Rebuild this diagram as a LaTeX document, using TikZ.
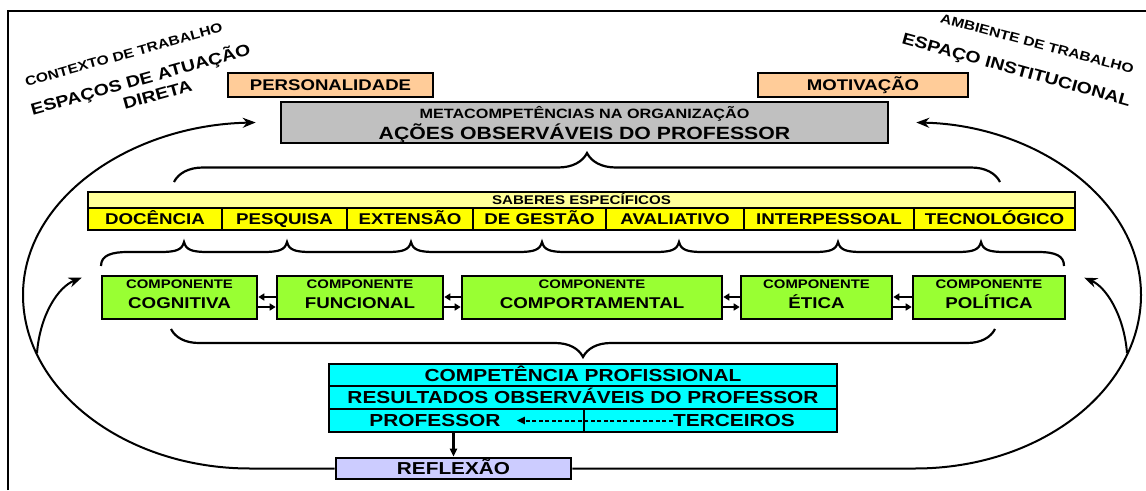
\documentclass[tikz,border=0pt]{standalone}
\usepackage{fontspec}
\setmainfont{Liberation Sans}[FakeStretch=1.2]
\usetikzlibrary{arrows.meta,decorations.pathreplacing}
\definecolor{peach}{HTML}{FFCC99}
\definecolor{metagray}{HTML}{C0C0C0}
\definecolor{paleyellow}{HTML}{FFFF99}
\definecolor{cellyellow}{HTML}{FFFF00}
\definecolor{limegreen}{HTML}{99FF33}
\definecolor{aqua}{HTML}{00FFFF}
\definecolor{lavender}{HTML}{CCCCFF}

\begin{document}
\begin{tikzpicture}[x=1pt,y=-1pt,
plainbox/.style={draw=black, line width=2.6pt, inner sep=0pt},
orangenode/.style={plainbox, fill=peach, minimum height=24pt, text height=11pt, text depth=0pt, font=\bfseries\fontsize{15.5}{15.5}\selectfont},
graynode/.style={plainbox, fill=metagray, minimum height=41pt},
headnode/.style={plainbox, fill=paleyellow, minimum height=16pt, text height=9pt, text depth=0pt, font=\bfseries\fontsize{12.6}{12.6}\selectfont},
cellnode/.style={plainbox, fill=cellyellow, minimum height=22pt, text height=11.2pt, text depth=0pt, font=\bfseries\fontsize{15.6}{15.6}\selectfont},
greennode/.style={plainbox, fill=limegreen, minimum height=43pt},
cyannode/.style={plainbox, fill=aqua, text height=12.5pt, text depth=0pt, font=\bfseries\fontsize{17.4}{17.4}\selectfont},
reflnode/.style={plainbox, fill=lavender, minimum height=21pt, text height=12.4pt, text depth=0pt, font=\bfseries\fontsize{17.3}{17.3}\selectfont},
txt/.style={font=\bfseries\fontsize{#1}{#1}\selectfont, anchor=base, inner sep=0pt},
loopline/.style={line width=2pt, -{Stealth[length=13pt,width=10pt]}},
duoarrow/.style={line width=1.7pt, -{Triangle[length=6pt,width=7pt]}},
bracedeco/.style={line width=2.2pt, decorate, decoration={brace, amplitude=#1}}
]
\useasboundingbox (0,0) rectangle (1146,490);

% frame
\draw[line width=2pt] (8,490) -- (8,11) -- (1146,11);

% labels of the two spaces
\node[txt=13, rotate=15.5] (ctx) at (125,59) {CONTEXTO DE TRABALHO};
\node[txt=16.2, rotate=15.5] (esp) at (142,85) {ESPAÇOS DE ATUAÇÃO};
\node[txt=16.2, rotate=15.5] (dir) at (159,100) {DIRETA};
\node[txt=13, rotate=-15] (amb) at (1036,48) {AMBIENTE DE TRABALHO};
\node[txt=16.2, rotate=-15.5] (espi) at (1015,75) {ESPAÇO INSTITUCIONAL};

% top
\node[orangenode, minimum width=205pt] (pers) at (330.5,85) {PERSONALIDADE};
\node[orangenode, minimum width=210pt] (motiv) at (863,85) {MOTIVAÇÃO};
\node[graynode, minimum width=607pt] (meta) at (584.5,122.5) {};
\node[txt=13.5] (metatop) at (584.5,118) {METACOMPETÊNCIAS NA ORGANIZAÇÃO};
\node[txt=17.7] (metabot) at (584.5,139) {AÇÕES OBSERVÁVEIS DO PROFESSOR};

\draw[bracedeco=29pt] (174,182) -- (1000,182);

% saberes
\node[headnode, minimum width=987pt] (saberes) at (581.5,200) {SABERES ESPECÍFICOS};
\foreach \n/\l/\r/\t in {c1/88/222/DOCÊNCIA, c2/222/347/PESQUISA, c3/347/473/EXTENSÃO, c4/473/606/DE GESTÃO, c5/606/744/AVALIATIVO, c6/744/914/INTERPESSOAL, c7/914/1075/TECNOLÓGICO}
  \node[cellnode, minimum width={\r-\l}] (\n) at ({(\l+\r)/2},219) {\t};

\draw[line width=2.2pt] (101,266) .. controls (101,255) and (112,252) .. (128,252)
  foreach \t in {184,287,411,542,679,838,981}{ -- (\t-24,252) .. controls (\t-8,252) and (\t-2,250) .. (\t,242) .. controls (\t+2,250) and (\t+8,252) .. (\t+24,252) }
  -- (1038,252) .. controls (1056,252) and (1064,256) .. (1064,266);

% componentes
\foreach \n/\l/\r/\t in {cogn/102/257/COGNITIVA, func/277/443/FUNCIONAL, comp/462/722/COMPORTAMENTAL, etic/741/892/ÉTICA, poli/913/1065/POLÍTICA}{
  \node[greennode, minimum width={\r-\l}] (\n) at ({(\l+\r)/2},297.5) {};
  \node[txt=12.4] (\n top) at ({(\l+\r)/2},288) {COMPONENTE};
  \node[txt=15.6] (\n name) at ({(\l+\r)/2},308) {\t};
}
\foreach \a/\b in {cogn/func, func/comp, comp/etic, etic/poli}{
  \draw[duoarrow] ([yshift=0.5pt]\b.west) -- ([yshift=0.5pt]\a.east);
  \draw[duoarrow] ([yshift=-9.5pt]\a.east) -- ([yshift=-9.5pt]\b.west);
}

\draw[bracedeco=28pt] (995,329) -- (171,329);

% competencia
\node[cyannode, minimum width=508pt, minimum height=22pt] (cA) at (583,375) {COMPETÊNCIA PROFISSIONAL};
\node[cyannode, minimum width=508pt, minimum height=23pt] (cB) at (583,397.5) {RESULTADOS OBSERVÁVEIS DO PROFESSOR};
\node[cyannode, minimum width=255pt, minimum height=23pt] (cC) at (456.5,420.5) {};
\node[cyannode, minimum width=253pt, minimum height=23pt] (cD) at (710.5,420.5) {};
\node[txt=17.4] (prof) at (435,426.5) {PROFESSOR};
\node[txt=17.4] (terc) at (734,426.5) {TERCEIROS};
\draw[line width=2pt, dash pattern=on 4pt off 2.5pt, -{Triangle[length=8pt,width=7pt]}, shorten >=16pt] (terc.west) -- (prof.east);

\node[reflnode, minimum width=235pt] (refl) at (453.5,468.5) {REFLEXÃO};
\draw[line width=2.5pt, -{Triangle[length=8pt,width=7pt]}] (refl.north |- cC.south) -- (refl.north);

% loops back to the top
\coordinate (lefttip) at ([xshift=-24pt]meta.west);
\coordinate (righttip) at ([xshift=27pt]meta.east);
\coordinate (cogntip) at ([xshift=-19pt,yshift=-3pt]cogn.north west);
\coordinate (politip) at ([xshift=18pt,yshift=-3pt]poli.north east);
\draw[loopline] (refl.west) -- (250,468.5) .. controls (125,468.5) and (23,390) .. (23,295) .. controls (23,199) and (130,125) .. (lefttip);
\draw[loopline] (refl.east) -- (915,468.5) .. controls (1040,468.5) and (1141,390) .. (1141,295) .. controls (1141,199) and (1035,125) .. (righttip);
\draw[loopline] (37,353) .. controls (40,315) and (58,287) .. (cogntip);
\draw[loopline] (1127,353) .. controls (1124,315) and (1106,287) .. (politip);
\end{tikzpicture}
\end{document}
